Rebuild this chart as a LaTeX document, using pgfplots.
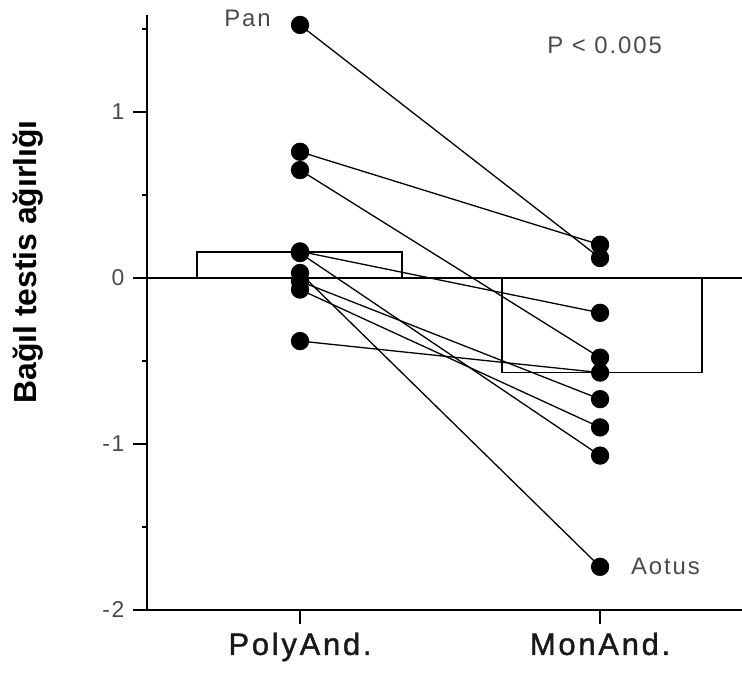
\documentclass[border=0pt]{standalone}
\usepackage{fontspec}
\setmainfont{Liberation Sans}
\newfontfamily\spaced[LetterSpace=8]{Liberation Sans}
\newfontfamily\xlab[LetterSpace=9, FakeBold=1.4]{Liberation Sans}
\usepackage{pgfplots}
\pgfplotsset{compat=1.18}
\definecolor{txtgray}{HTML}{4A4A4A}
\pgfplotsset{pair/.style={black, line width=1.3bp, mark=*, mark size=8.5bp, mark options={solid, fill=black}}}
\begin{document}
\begin{tikzpicture}
\useasboundingbox (0,0) rectangle (742bp,673bp);
\begin{axis}[
  at={(147bp,63bp)}, anchor=south west,
  scale only axis, width=595bp, height=595bp,
  xmin=-0.51, xmax=1.473, ymin=-2, ymax=1.584,
  axis x line=bottom, axis y line=left,
  axis line style={-, line width=1.3bp, black},
  xtick={0,1}, xticklabels={PolyAnd.,MonAnd.},
  ytick={-2,-1,0,1}, yticklabels={{-2},{-1},0,1},
  minor ytick={-1.5,-0.5,0.5,1.5},
  tick align=outside,
  major tick length=14bp, minor tick length=5bp,
  tick style={line width=1.2bp, black},
  xticklabel style={font=\xlab\fontsize{31}{34}\selectfont, text=black!90, yshift=-5bp},
  yticklabel style={font=\spaced\fontsize{23}{26}\selectfont, text=txtgray, xshift=-5bp},
  every axis y label/.style={at={(axis description cs:-0.2,0.585)}, rotate=90, anchor=center},
  ylabel={Bağıl testis ağırlığı},
  ylabel style={font=\bfseries\fontsize{32}{36}\selectfont},
  clip=false,
]
\addplot[black, line width=1.2bp] coordinates {(-0.51,0)(1.473,0)};
\addplot[ybar, bar width=0.683, bar shift=0pt, fill=white, draw=black, line width=1.5bp] coordinates {(-0.002,0.157)};
\addplot[ybar, bar width=0.667, bar shift=0pt, fill=white, draw=black, line width=1.5bp] coordinates {(1.007,-0.57)};
\addplot[pair] coordinates {(0,1.524)(1,0.12)};
\addplot[pair] coordinates {(0,0.76)(1,0.20)};
\addplot[pair] coordinates {(0,0.65)(1,-0.48)};
\addplot[pair] coordinates {(0,0.16)(1,-0.21)};
\addplot[pair] coordinates {(0,0.15)(1,-1.07)};
\addplot[pair] coordinates {(0,0.03)(1,-1.74)};
\addplot[pair] coordinates {(0,-0.02)(1,-0.73)};
\addplot[pair] coordinates {(0,-0.07)(1,-0.90)};
\addplot[pair] coordinates {(0,-0.38)(1,-0.57)};
\node[font=\spaced\fontsize{24}{27}\selectfont, text=txtgray] at (axis cs:-0.175,1.566) {Pan};
\node[font=\spaced\fontsize{24}{27}\selectfont, text=txtgray] at (axis cs:1.218,-1.735) {Aotus};
\node[font=\spaced\fontsize{24}{27}\selectfont, text=txtgray] at (axis cs:1.015,1.404) {P < 0.005};
\end{axis}
\end{tikzpicture}
\end{document}
